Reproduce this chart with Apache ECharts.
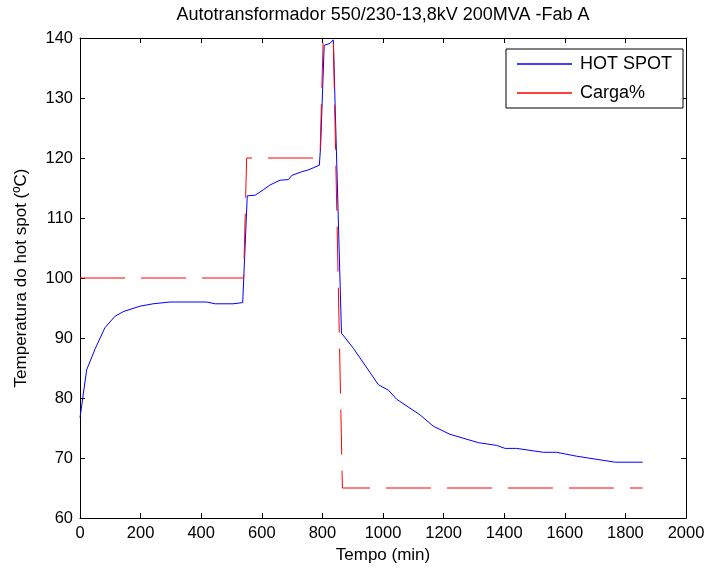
<!DOCTYPE html>
<html>
<head>
<meta charset="utf-8">
<script src="https://cdn.jsdelivr.net/npm/echarts@6/dist/echarts.min.js"></script>
<style>html,body{margin:0;padding:0;background:#fff}#c{width:708px;height:572px}</style>
</head>
<body>
<div id="c"></div>
<script>
var titleText = 'Autotransformador 550/230-13,8kV 200MVA -Fab A';
var xName = 'Tempo (min)';
var yName = 'Temperatura do hot spot (ºC)';
var seriesNames = ['HOT SPOT', 'Carga%'];

var hotTime = [0, 22, 50, 82, 115, 143, 198, 241, 297, 418, 446, 505, 537, 552, 578, 605, 627, 660, 688, 699, 731, 753, 790, 794, 806, 825, 836, 863, 902, 985, 1018, 1045, 1122, 1166, 1221, 1315, 1375, 1403, 1441, 1529, 1573, 1639, 1766, 1857];
var hotTemp = [76.7, 84.7, 88.2, 91.7, 93.6, 94.4, 95.3, 95.7, 96, 96, 95.7, 95.7, 95.9, 113.7, 113.8, 114.7, 115.5, 116.3, 116.4, 117.1, 117.7, 118, 118.8, 121.9, 138.8, 139.1, 139.7, 90.8, 88.3, 82.2, 81.3, 79.8, 77.2, 75.3, 73.95, 72.55, 72.1, 71.6, 71.6, 70.95, 70.95, 70.3, 69.3, 69.3];

var cargaTime = [0, 540, 550, 792, 808, 832, 866, 1857];
var cargaVal = [100, 100, 120, 120, 150, 150, 65, 65];

var xTicks = {min: 0, max: 2000, step: 200};
var yTicks = {min: 60, max: 140, step: 10};

function pairs(a, b) { return a.map(function (v, i) { return [v, b[i]]; }); }

var FONT = 'Liberation Sans, Arial, sans-serif';
var chart = echarts.init(document.getElementById('c'), null, {renderer: 'canvas'});

function plain(v) { return String(v); }

function xAx(pos, labels) {
  return {
    type: 'value', position: pos, min: xTicks.min, max: xTicks.max, interval: xTicks.step,
    axisLine: {show: true, onZero: false, lineStyle: {color: '#000', width: 1}},
    axisTick: {show: true, inside: true, length: 5, lineStyle: {color: '#000'}},
    axisLabel: {show: labels, color: '#000', fontSize: 16.5, fontFamily: FONT, margin: 7, formatter: plain},
    splitLine: {show: false},
    name: labels ? xName : '', nameLocation: 'middle', nameGap: 26,
    nameTextStyle: {color: '#000', fontSize: 17, fontFamily: FONT}
  };
}
function yAx(pos, labels) {
  return {
    type: 'value', position: pos, min: yTicks.min, max: yTicks.max, interval: yTicks.step,
    axisLine: {show: true, onZero: false, lineStyle: {color: '#000', width: 1}},
    axisTick: {show: true, inside: true, length: 5, lineStyle: {color: '#000'}},
    axisLabel: {show: labels, color: '#000', fontSize: 16.5, fontFamily: FONT, margin: 7, formatter: plain},
    splitLine: {show: false},
    name: labels ? yName : '', nameLocation: 'middle', nameGap: 50,
    nameTextStyle: {color: '#000', fontSize: 17, fontFamily: FONT}
  };
}

chart.setOption({
  animation: false,
  backgroundColor: '#fff',
  grid: {left: 80, top: 38, right: 22, bottom: 54, containLabel: false},
  graphic: [{
    type: 'text', x: 383, y: 6,
    style: {text: titleText, textAlign: 'center', textVerticalAlign: 'top', fill: '#000', fontSize: 18, fontFamily: FONT}
  }],
  legend: {
    orient: 'vertical', right: 25, top: 49,
    backgroundColor: '#fff', borderColor: '#000', borderWidth: 1,
    padding: [6, 11, 6, 11], itemGap: 11, itemWidth: 55, itemHeight: 1.5,
    icon: 'rect',
    textStyle: {color: '#000', fontSize: 18, fontFamily: FONT, padding: [0, 0, 0, 3]},
    data: seriesNames
  },
  xAxis: [xAx('bottom', true), xAx('top', false)],
  yAxis: [yAx('left', true), yAx('right', false)],
  series: [
    {
      name: seriesNames[0], type: 'line', xAxisIndex: 0, yAxisIndex: 0,
      data: pairs(hotTime, hotTemp), showSymbol: false, symbol: 'none', clip: true,
      lineStyle: {color: '#0000ff', width: 1}, itemStyle: {color: '#0000ff'}
    },
    {
      name: seriesNames[1], type: 'line', xAxisIndex: 0, yAxisIndex: 0,
      data: pairs(cargaTime, cargaVal), showSymbol: false, symbol: 'none', clip: true,
      lineStyle: {color: '#ff0000', width: 1, type: [45, 16]}, itemStyle: {color: '#ff0000'}
    }
  ]
});
</script>
</body>
</html>
